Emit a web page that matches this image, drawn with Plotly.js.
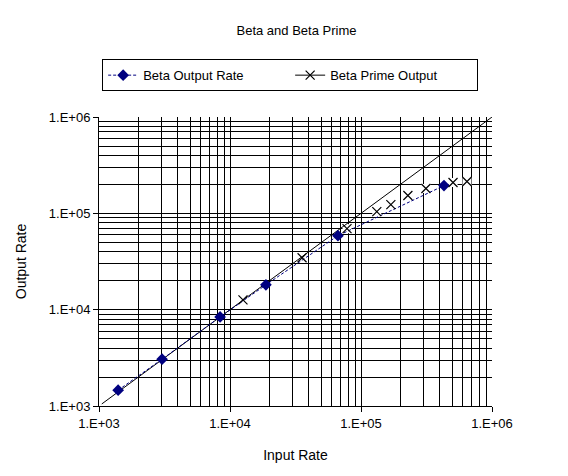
<!DOCTYPE html>
<html>
<head>
<meta charset="utf-8">
<script src="https://cdn.plot.ly/plotly-3.0.1.min.js"></script>
<style>html,body{margin:0;padding:0;background:#fff;}#chart{width:568px;height:476px;}</style>
</head>
<body>
<div id="chart"></div>
<script>
// Data
var betaInput = [1400, 3030, 8400, 18800, 66700, 430000];
var betaOutput = [1460, 3060, 8400, 18100, 58600, 194000];
var primeInput = [12560, 35500, 78200, 132000, 169000, 228000, 313000, 504000, 644000];
var primeOutput = [12620, 34600, 69300, 104000, 123000, 153000, 181000, 209000, 214000];
var refLineX = [1050, 1000000];
var refLineY = [1050, 1000000];
var decadeVals = [1e3, 1e4, 1e5, 1e6];
var decadeText = ['1.E+03', '1.E+04', '1.E+05', '1.E+06'];

var minorVals = [];
for (var e = 3; e < 6; e++) {
  for (var d = 2; d <= 9; d++) minorVals.push(d * Math.pow(10, e));
}

var font = 'Liberation Sans, Arial, sans-serif';

var traces = [
  { // white masks behind X markers
    x: primeInput, y: primeOutput, mode: 'markers', type: 'scatter',
    marker: {symbol: 'square', size: 9, color: '#ffffff', line: {width: 0}},
    showlegend: false, hoverinfo: 'skip'
  },
  { // diagonal reference line
    x: refLineX, y: refLineY, mode: 'lines', type: 'scatter',
    line: {color: '#000000', width: 1},
    showlegend: false, hoverinfo: 'skip'
  },
  {
    x: betaInput, y: betaOutput, mode: 'lines+markers', type: 'scatter',
    name: 'Beta Output Rate',
    line: {color: '#000080', width: 1, dash: '3px,2px'},
    marker: {symbol: 'diamond', size: 9, color: '#000080'}
  },
  {
    x: primeInput, y: primeOutput, mode: 'markers', type: 'scatter',
    showlegend: false,
    marker: {symbol: 'x-thin-open', size: 9, color: '#000000', line: {color: '#000000', width: 1.2}}
  },
  { // legend entry
    x: [null], y: [null], mode: 'lines+markers', type: 'scatter',
    name: 'Beta Prime Output',
    line: {color: '#000000', width: 1},
    marker: {symbol: 'x-thin-open', size: 9, color: '#000000', line: {color: '#000000', width: 1.2}}
  }
];

function axis(titleText, standoff) {
  return {
    type: 'log',
    range: [3, 6],
    tickmode: 'array',
    tickvals: decadeVals,
    ticktext: decadeText,
    ticks: 'outside', ticklen: 5, tickcolor: '#000', tickwidth: 1,
    showgrid: true, gridcolor: '#000', gridwidth: 1,
    showline: true, linecolor: '#000', linewidth: 1,
    zeroline: false,
    tickfont: {family: font, size: 13, color: '#000'},
    minor: {tickmode: 'array', tickvals: minorVals, showgrid: true, gridcolor: '#000', gridwidth: 1, ticks: ''},
    title: {text: titleText, font: {family: font, size: 14, color: '#000'}, standoff: standoff},
    automargin: false
  };
}

var xa = axis('Input Rate', 20);
var ya = axis('Output Rate', 18);

var layout = {
  width: 568, height: 476,
  margin: {l: 99, r: 76, t: 117, b: 70},
  paper_bgcolor: '#fff', plot_bgcolor: '#fff',
  title: {text: 'Beta and Beta Prime', font: {family: font, size: 13, color: '#000'}, x: 0.522, xanchor: 'center', y: 0.935, yanchor: 'middle'},
  xaxis: xa,
  yaxis: ya,
  showlegend: true,
  legend: {
    orientation: 'h', x: 0.008, xanchor: 'left', y: 1.2, yanchor: 'top',
    bordercolor: '#000', borderwidth: 1, bgcolor: '#fff',
    font: {family: font, size: 13, color: '#000'},
    entrywidth: 142, entrywidthmode: 'pixels',
    traceorder: 'normal'
  }
};

Plotly.newPlot('chart', traces, layout, {staticPlot: true, displayModeBar: false});
</script>
</body>
</html>
